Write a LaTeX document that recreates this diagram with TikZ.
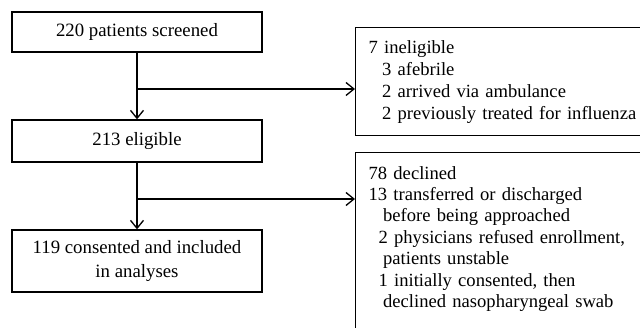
\documentclass[tikz,border=0pt]{standalone}
\usepackage{fontspec}
\setmainfont{Liberation Serif}
\usetikzlibrary{arrows.meta}
\tikzset{
  lbox/.style={draw, line width=1.3pt, minimum width=250pt, inner sep=0pt, align=center,
    font=\fontsize{18.8}{24}\selectfont},
  rbox/.style={draw, line width=1.3pt, anchor=north west, text width=320pt, inner xsep=13pt,
    align=left},
  flow/.style={line width=1.3pt, -{Straight Barb[length=8pt,width=13pt,line width=1.3pt]}},
}
\begin{document}
\begin{tikzpicture}[x=1pt,y=-1pt]
\useasboundingbox (0,0) rectangle (640,328);
\clip (0,0) rectangle (640,328);
\node[lbox, minimum height=40pt] (screen) at (137,32) {220 patients screened};
\node[lbox, minimum height=42pt] (elig) at (137,141) {213 eligible};
\node[lbox, minimum height=62pt] (incl) at (137,261) {119 consented and included\\in analyses};
\node[rbox, inner ysep=12.5pt, font=\fontsize{18.6}{22}\selectfont] (inel) at (355,27)
  {7 ineligible\\
   \hspace*{13.5pt}3 afebrile\\
   \hspace*{13.5pt}2 arrived via ambulance\\
   \hspace*{13.5pt}2 previously treated for influenza};
\node[rbox, inner ysep=13.5pt, font=\fontsize{18.6}{21.4}\selectfont] (decl) at (355,152)
  {78 declined\\
   13 transferred or discharged\\
   \hspace*{14.5pt}before being approached\\
   \hspace*{10pt}2 physicians refused enrollment,\\
   \hspace*{14.5pt}patients unstable\\
   \hspace*{10pt}1 initially consented, then\\
   \hspace*{14.5pt}declined nasopharyngeal swab\rule[-30pt]{0pt}{0pt}};
\coordinate (br1) at (137,89);
\coordinate (br2) at (137,199);
\draw[flow] (screen.south) -- (elig.north);
\draw[flow] (br1) -- (inel.west |- br1);
\draw[flow] (elig.south) -- (incl.north);
\draw[flow] (br2) -- (decl.west |- br2);
\end{tikzpicture}
\end{document}
